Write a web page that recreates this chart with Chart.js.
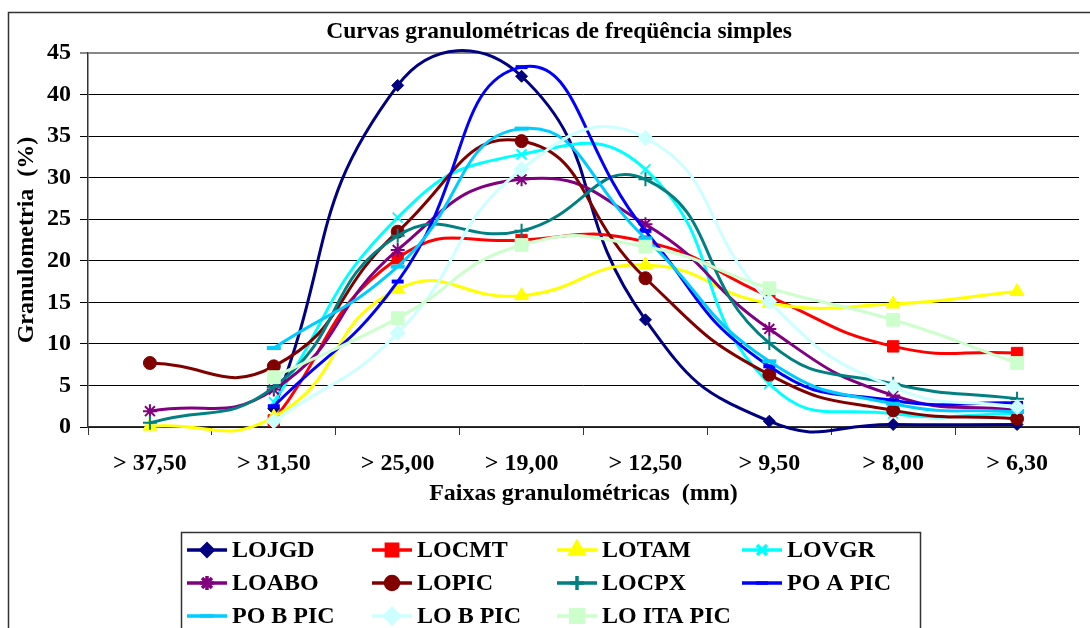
<!DOCTYPE html>
<html lang="pt">
<head>
  <meta charset="UTF-8">
  <title>Curvas granulométricas de freqüência simples</title>
  <script src="https://cdn.jsdelivr.net/npm/chart.js"></script>
  <style>
    html, body { margin: 0; padding: 0; background: #fff; overflow: hidden; }
    .wrap { position: relative; width: 1090px; height: 628px; }
  </style>
</head>
<body>
  <div class="wrap">
    <canvas id="granChart"></canvas>
  </div>

  <script>
    // Data
    const categories = ['> 37,50', '> 31,50', '> 25,00', '> 19,00', '> 12,50', '> 9,50', '> 8,00', '> 6,30'];
    const yMax = 45;
    const yStep = 5;

    const lojgd    = [null, 2.2, 41.1, 42.2, 12.9, 0.7, 0.3, 0.3];
    const locmt    = [null, 0.8, 20.3, 22.5, 22.3, 15.7, 9.7, 8.9];
    const lotam    = [0.1, 1.2, 16.6, 15.8, 19.5, 14.9, 14.8, 16.3];
    const lovgr    = [null, 3.0, 25.2, 32.8, 31.0, 5.2, 1.6, 1.6];
    const loabo    = [1.9, 4.5, 21.3, 29.8, 24.4, 11.8, 3.8, 2.0];
    const lopic    = [7.7, 7.3, 23.5, 34.4, 17.9, 6.3, 2.0, 1.0];
    const locpx    = [0.5, 4.8, 23.0, 23.6, 29.8, 10.1, 5.2, 3.4];
    const poAPic   = [null, 2.5, 17.5, 43.3, 23.6, 7.3, 3.2, 2.9];
    const poBPic   = [null, 9.5, 19.3, 35.9, 22.7, 7.9, 2.8, 1.8];
    const loBPic   = [null, 0.7, 11.3, 31.0, 34.8, 15.1, 4.8, 2.4];
    const loItaPic = [null, 6.0, 13.1, 21.9, 21.7, 16.7, 12.9, 7.7];

    const serif = '"Liberation Serif", "Times New Roman", serif';
    const fontSize = 24;

    function series(label, data, color, pointStyle, radius, borderWidth) {
      return {
        label: label,
        data: data,
        borderColor: color,
        backgroundColor: color,
        pointStyle: pointStyle,
        pointRadius: radius,
        pointHoverRadius: radius,
        pointBorderWidth: borderWidth || 1,
        borderWidth: 3,
        tension: 0.5,
        capBezierPoints: false,
        clip: false
      };
    }

    const datasets = [
      series('LOJGD', lojgd, '#000080', 'rectRot', 6),
      series('LOCMT', locmt, '#FF0000', 'rect', 8),
      series('LOTAM', lotam, '#FFFF00', 'triangle', 8),
      series('LOVGR', lovgr, '#00FFFF', 'crossRot', 7, 2),
      series('LOABO', loabo, '#800080', 'star', 7, 2),
      series('LOPIC', lopic, '#800000', 'circle', 6.5),
      series('LOCPX', locpx, '#008080', 'cross', 7, 2),
      series('PO A PIC', poAPic, '#0000FF', 'line', 6, 4),
      series('PO B PIC', poBPic, '#00CCFF', 'line', 7, 4),
      series('LO B PIC', loBPic, '#CCFFFF', 'rectRot', 7.5),
      series('LO ITA PIC', loItaPic, '#CCFFCC', 'rect', 9)
    ];
    // later series on top, like the original
    datasets.forEach((d, i) => { d.order = datasets.length - i; });

    // frame, title and boxed legend
    const decorations = {
      id: 'decorations',
      afterDraw(chart) {
        const ctx = chart.ctx;
        ctx.save();
        ctx.strokeStyle = '#333';
        ctx.lineWidth = 1.5;
        ctx.strokeRect(8.5, 12.5, 1200, 700);

        ctx.fillStyle = '#000';
        ctx.font = 'bold 23.5px ' + serif;
        ctx.textAlign = 'center';
        ctx.textBaseline = 'middle';
        ctx.fillText('Curvas granulométricas de freqüência simples', 559, 32);

        // legend
        ctx.lineWidth = 1.5;
        ctx.strokeStyle = '#333';
        ctx.strokeRect(181.5, 532.5, 739, 200);
        chart.data.datasets.forEach((d, i) => {
          const col = i % 4, row = Math.floor(i / 4);
          const x = 187 + col * 185;
          const y = 550 + row * 33;
          ctx.strokeStyle = d.borderColor;
          ctx.lineWidth = 3.5;
          ctx.beginPath();
          ctx.moveTo(x, y);
          ctx.lineTo(x + 40, y);
          ctx.stroke();
          ctx.fillStyle = d.backgroundColor;
          ctx.strokeStyle = d.borderColor;
          Chart.helpers.drawPoint(ctx, {
            pointStyle: d.pointStyle,
            radius: d.pointRadius,
            rotation: 0,
            borderWidth: d.pointBorderWidth
          }, x + 20, y);
          ctx.fillStyle = '#000';
          ctx.font = 'bold ' + fontSize + 'px ' + serif;
          ctx.textAlign = 'left';
          ctx.textBaseline = 'middle';
          ctx.fillText(d.label, x + 45, y + 1);
        });
        ctx.restore();
      }
    };

    const ctx = document.getElementById('granChart').getContext('2d');
    new Chart(ctx, {
      type: 'line',
      data: { labels: categories, datasets: datasets },
      options: {
        responsive: true,
        maintainAspectRatio: false,
        animation: false,
        layout: { padding: { top: 53, left: 8, right: 0, bottom: 120 } },
        plugins: {
          legend: { display: false },
          title: { display: false },
          tooltip: { enabled: false }
        },
        scales: {
          x: {
            offset: true,
            grid: {
              offset: true,
              drawOnChartArea: false,
              drawTicks: true,
              tickLength: 8,
              color: '#333'
            },
            border: { color: '#333', width: 1.5 },
            ticks: {
              color: '#000',
              font: { family: serif, size: fontSize, weight: 'bold' },
              padding: 14,
              maxRotation: 0
            },
            title: {
              display: true,
              text: 'Faixas granulométricas  (mm)',
              color: '#000',
              font: { family: serif, size: fontSize, weight: 'bold' },
              padding: { top: 0, bottom: 0 }
            },
            afterFit(scale) { scale.height = 81; }
          },
          y: {
            min: 0,
            max: yMax,
            grid: {
              color: ctx => ctx.tick && ctx.tick.value === yMax ? '#888' : '#000',
              lineWidth: ctx => ctx.tick && ctx.tick.value === yMax ? 2 : 1,
              drawTicks: true,
              tickLength: 8
            },
            border: { color: '#333', width: 1.5 },
            ticks: {
              stepSize: yStep,
              color: '#000',
              font: { family: serif, size: fontSize, weight: 'bold' },
              padding: 9
            },
            title: {
              display: true,
              text: 'Granulometria  (%)',
              color: '#000',
              font: { family: serif, size: fontSize, weight: 'bold' },
              padding: { top: 4, bottom: 0 }
            },
            afterFit(scale) { scale.width = 80; }
          }
        }
      },
      plugins: [decorations]
    });
  </script>
</body>
</html>
